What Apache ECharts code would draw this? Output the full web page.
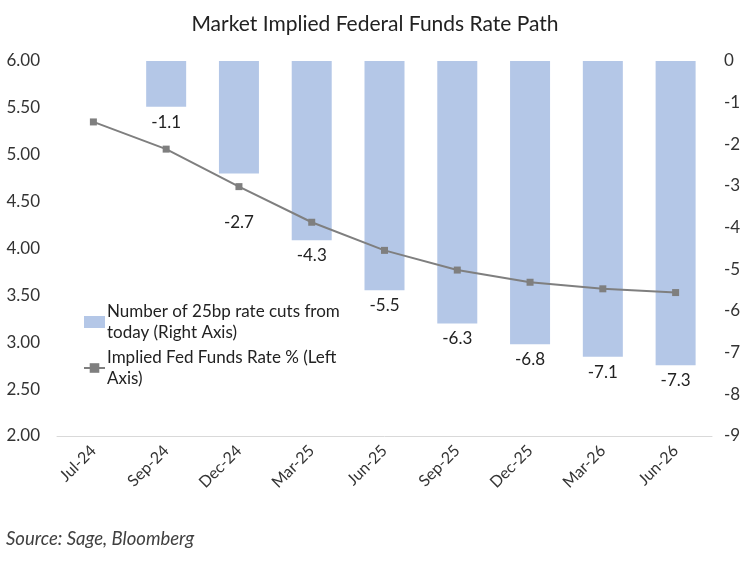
<!DOCTYPE html>
<html><head><meta charset="utf-8">
<script src="https://cdn.jsdelivr.net/npm/echarts@6/dist/echarts.min.js"></script>
<style>html,body{margin:0;padding:0;background:#fff}#c{width:750px;height:563px}</style>
</head><body><div id="c"></div>
<script>
const categories = ['Jul-24','Sep-24','Dec-24','Mar-25','Jun-25','Sep-25','Dec-25','Mar-26','Jun-26'];
const cuts = [null, -1.1, -2.7, -4.3, -5.5, -6.3, -6.8, -7.1, -7.3];
const rate = [5.35, 5.06, 4.66, 4.28, 3.98, 3.77, 3.64, 3.57, 3.53];
const leftTicks = {min: 2, max: 6, interval: 0.5};
const rightTicks = {min: -9, max: 0, interval: 1};

const FONT = 'Lato';
const barData = cuts.map((v, i) => i === 2 ? {value: v, label: {distance: 41}} : v);
const chart = echarts.init(document.getElementById('c'));
chart.setOption({
  animation: false,
  textStyle: {fontFamily: FONT},
  title: {text: 'Market Implied Federal Funds Rate Path', left: 'center', top: 9,
    textStyle: {fontFamily: FONT, fontSize: 21, fontWeight: 'normal', color: '#222'}},
  grid: {left: 57, right: 38, top: 61, bottom: 127, containLabel: false},
  legend: {
    orient: 'vertical', left: 78, top: 296, itemGap: 4,
    itemWidth: 21, itemHeight: 12,
    textStyle: {fontFamily: FONT, fontSize: 17, color: '#222', lineHeight: 21, padding: [0, 0, 0, -3]},
    data: [
      {name: 'Number of 25bp rate cuts from\ntoday (Right Axis)', icon: 'rect'},
      {name: 'Implied Fed Funds Rate % (Left\nAxis)'}
    ]
  },
  xAxis: {
    type: 'category', data: categories,
    axisLine: {show: true, onZero: false, lineStyle: {color: '#d9d9d9'}},
    axisTick: {show: false},
    axisLabel: {rotate: 45, fontFamily: FONT, fontSize: 16, color: '#333', margin: 12}
  },
  yAxis: [
    {type: 'value', position: 'left', min: leftTicks.min, max: leftTicks.max, interval: leftTicks.interval,
     splitLine: {show: false}, axisLine: {show: false}, axisTick: {show: false},
     axisLabel: {fontFamily: FONT, fontSize: 17, color: '#333', margin: 17, formatter: v => v.toFixed(2)}},
    {type: 'value', position: 'right', min: rightTicks.min, max: rightTicks.max, interval: rightTicks.interval,
     splitLine: {show: false}, axisLine: {show: false}, axisTick: {show: false},
     axisLabel: {fontFamily: FONT, fontSize: 17, color: '#333', margin: 12}}
  ],
  series: [
    {name: 'Number of 25bp rate cuts from\ntoday (Right Axis)', type: 'bar', yAxisIndex: 1, data: barData,
     barWidth: 40, itemStyle: {color: '#b4c7e7'},
     label: {show: true, position: 'bottom', distance: 7, fontFamily: FONT, fontSize: 17, color: '#222',
       formatter: p => p.value == null ? '' : p.value.toFixed(1)}},
    {name: 'Implied Fed Funds Rate % (Left\nAxis)', type: 'line', yAxisIndex: 0, data: rate,
     symbol: 'rect', symbolSize: 7, itemStyle: {color: '#7f7f7f'}, lineStyle: {color: '#7f7f7f', width: 2},
     z: 5}
  ],
  graphic: [{type: 'text', left: 6, top: 530,
    style: {text: 'Source: Sage, Bloomberg', fontFamily: FONT, fontSize: 18.5, fontStyle: 'italic', fill: '#404040'}}]
});
</script></body></html>
